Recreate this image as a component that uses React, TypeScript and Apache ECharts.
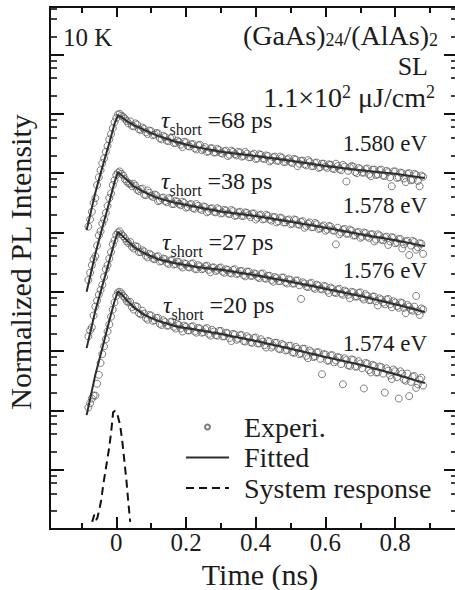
import React, { useEffect, useRef } from "react";
import * as echarts from "echarts";

// ---------- data (intensities stored as log10 values) ----------
// sampling grid A (ps)
const timePsA = [
  -80, -70, -60, -50, -40, -30, -20, -10, 0, 10, 20, 30,
  40, 50, 60, 70, 80, 90, 100, 110, 120, 130,
  140, 150, 160, 170, 180, 190, 200, 210, 220, 230,
  240, 250, 260, 270, 280, 290, 300, 310, 320, 330,
  340, 350, 360, 370, 380, 390, 400, 410, 420, 430,
  440, 450, 460, 470, 480, 490, 500, 510, 520, 530,
  540, 550, 560, 570, 580, 590, 600, 610, 620, 630,
  640, 650, 660, 670, 680, 690, 700, 710, 720, 730,
  740, 750, 760, 770, 780, 790, 800, 810, 820, 830,
  840, 850, 860, 870, 880,
];
// sampling grid B (ps), interleaved with grid A
const timePsB = [
  -75, -65, -55, -45, -35, -25, -15, -5, 5, 15, 25, 35,
  45, 55, 65, 75, 85, 95, 105, 115, 125, 135,
  145, 155, 165, 175, 185, 195, 205, 215, 225, 235,
  245, 255, 265, 275, 285, 295, 305, 315, 325, 335,
  345, 355, 365, 375, 385, 395, 405, 415, 425, 435,
  445, 455, 465, 475, 485, 495, 505, 515, 525, 535,
  545, 555, 565, 575, 585, 595, 605, 615, 625, 635,
  645, 655, 665, 675, 685, 695, 705, 715, 725, 735,
  745, 755, 765, 775, 785, 795, 805, 815, 825, 835,
  845, 855, 865, 875,
];

const exp1580A = [
  5.10, 5.35, 5.58, 5.93, 6.17, 6.36, 6.57, 6.76, 6.93, 7.00, 6.95, 6.88,
  6.875, 6.79, 6.82, 6.73, 6.75, 6.66, 6.71, 6.65, 6.67, 6.57,
  6.61, 6.54, 6.60, 6.51, 6.53, 6.44, 6.52, 6.45, 6.49, 6.40,
  6.48, 6.41, 6.36, 6.42, 6.35, 6.41, 6.34, 6.37, 6.29, 6.38,
  6.32, 6.36, 6.28, 6.36, 6.27, 6.31, 6.24, 6.32, 6.25, 6.30,
  6.20, 6.27, 6.21, 6.28, 6.19, 6.23, 6.19, 6.24, 6.12, 6.21,
  6.15, 6.22, 6.12, 6.17, 6.09, 6.16, 6.11, 6.15, 6.08, 6.16,
  6.07, 6.14, 5.86, 6.10, 6.11, 6.00, 6.07, 6.01, 6.08, 5.95,
  6.06, 5.98, 6.06, 5.95, 6.02, 5.78, 6.03, 5.93, 6.00, 5.85,
  6.00, 5.89, 5.97, 5.78, 5.94,
];
const exp1580B = [
  5.22, 5.50, 5.80, 6.05, 6.25, 6.46, 6.66, 6.86, 6.99, 6.97, 6.92, 6.84,
  6.80, 6.84, 6.74, 6.77, 6.69, 6.72, 6.64, 6.68, 6.59, 6.63,
  6.55, 6.59, 6.51, 6.55, 6.48, 6.53, 6.46, 6.49, 6.42, 6.47,
  6.39, 6.44, 6.37, 6.42, 6.35, 6.39, 6.33, 6.38, 6.31, 6.36,
  6.30, 6.35, 6.29, 6.33, 6.27, 6.33, 6.25, 6.31, 6.24, 6.29,
  6.22, 6.28, 6.21, 6.26, 6.19, 6.25, 6.17, 6.23, 6.16, 6.21,
  6.13, 6.19, 6.12, 6.18, 6.10, 6.16, 6.09, 6.14, 6.07, 6.12,
  6.05, 6.11, 6.04, 6.12, 6.02, 6.09, 6.01, 6.07, 5.98, 6.06,
  5.97, 6.05, 5.96, 6.04, 5.93, 6.03, 5.92, 6.01, 5.91, 5.99,
  5.88, 5.99, 5.87, 5.96,
];

const exp1578A = [
  4.20, 4.45, 4.60, 4.95, 5.15, 5.33, 5.58, 5.80, 5.97, 6.03, 5.96, 5.86,
  5.82, 5.82, 5.72, 5.73, 5.64, 5.71, 5.62, 5.64, 5.53, 5.58,
  5.53, 5.58, 5.48, 5.53, 5.48, 5.52, 5.42, 5.47, 5.41, 5.48,
  5.40, 5.44, 5.34, 5.40, 5.35, 5.41, 5.32, 5.38, 5.32, 5.38,
  5.28, 5.34, 5.28, 5.34, 5.29, 5.32, 5.22, 5.29, 5.22, 5.30,
  5.22, 5.26, 5.17, 5.25, 5.17, 5.21, 5.14, 5.22, 5.14, 5.18,
  5.08, 5.15, 5.09, 5.16, 5.06, 5.10, 5.03, 5.11, 5.04, 4.80,
  4.97, 5.05, 4.98, 5.05, 4.95, 5.00, 4.91, 5.00, 4.93, 4.97,
  4.85, 4.97, 4.88, 4.92, 4.79, 4.92, 4.82, 4.89, 4.73, 4.85,
  4.62, 4.86, 4.71, 4.82, 4.64,
];
const exp1578B = [
  4.32, 4.55, 4.78, 5.02, 5.22, 5.45, 5.66, 5.88, 6.01, 5.99, 5.90, 5.83,
  5.78, 5.79, 5.70, 5.74, 5.63, 5.67, 5.60, 5.63, 5.54, 5.59,
  5.51, 5.56, 5.48, 5.52, 5.46, 5.50, 5.43, 5.48, 5.40, 5.45,
  5.38, 5.43, 5.36, 5.41, 5.34, 5.39, 5.33, 5.37, 5.31, 5.36,
  5.29, 5.35, 5.28, 5.33, 5.26, 5.32, 5.25, 5.30, 5.23, 5.28,
  5.20, 5.26, 5.19, 5.24, 5.17, 5.22, 5.15, 5.21, 5.13, 5.19,
  5.11, 5.17, 5.09, 5.14, 5.07, 5.12, 5.05, 5.10, 5.03, 5.08,
  5.00, 5.06, 4.98, 5.03, 4.95, 5.01, 4.93, 4.99, 4.91, 4.97,
  4.88, 4.95, 4.87, 4.93, 4.85, 4.91, 4.83, 4.89, 4.80, 4.86,
  4.78, 4.84, 4.75, 4.81,
];

const exp1576A = [
  3.25, 3.40, 3.75, 3.95, 4.12, 4.38, 4.56, 4.80, 4.96, 5.02, 4.94, 4.85,
  4.84, 4.73, 4.76, 4.67, 4.68, 4.58, 4.62, 4.55, 4.60, 4.52,
  4.55, 4.47, 4.53, 4.47, 4.50, 4.41, 4.47, 4.41, 4.48, 4.38,
  4.43, 4.39, 4.44, 4.33, 4.41, 4.37, 4.41, 4.32, 4.37, 4.31,
  4.38, 4.31, 4.35, 4.26, 4.34, 4.27, 4.30, 4.23, 4.31, 4.22,
  4.27, 4.17, 4.23, 4.18, 4.24, 4.14, 4.20, 4.14, 4.19, 3.88,
  4.14, 4.08, 4.15, 4.05, 4.10, 4.04, 4.09, 3.98, 4.05, 3.98,
  4.05, 3.95, 4.00, 3.89, 3.99, 3.92, 3.99, 3.87, 3.93, 3.86,
  3.92, 3.77, 3.87, 3.79, 3.88, 3.74, 3.82, 3.73, 3.81, 3.64,
  3.75, 3.68, 3.93, 3.61, 3.70,
];
const exp1576B = [
  3.35, 3.60, 3.85, 4.03, 4.25, 4.45, 4.67, 4.87, 5.00, 4.97, 4.90, 4.82,
  4.76, 4.77, 4.67, 4.70, 4.61, 4.64, 4.56, 4.59, 4.51, 4.56,
  4.49, 4.53, 4.46, 4.51, 4.44, 4.48, 4.42, 4.47, 4.39, 4.45,
  4.38, 4.43, 4.37, 4.41, 4.35, 4.40, 4.34, 4.38, 4.32, 4.37,
  4.30, 4.35, 4.28, 4.34, 4.27, 4.31, 4.25, 4.30, 4.23, 4.27,
  4.20, 4.25, 4.18, 4.24, 4.16, 4.21, 4.14, 4.19, 4.11, 4.16,
  4.09, 4.14, 4.07, 4.12, 4.05, 4.10, 4.02, 4.07, 3.99, 4.04,
  3.97, 4.02, 3.95, 4.00, 3.92, 3.98, 3.90, 3.96, 3.86, 3.92,
  3.84, 3.89, 3.82, 3.87, 3.79, 3.84, 3.76, 3.82, 3.73, 3.78,
  3.70, 3.75, 3.67, 3.72,
];

const exp1574A = [
  2.05, 2.20, 2.25, 2.60, 2.95, 3.20, 3.45, 3.70, 3.93, 4.00, 3.93, 3.84,
  3.83, 3.70, 3.75, 3.62, 3.63, 3.53, 3.60, 3.52, 3.56, 3.44,
  3.49, 3.43, 3.50, 3.38, 3.44, 3.33, 3.41, 3.35, 3.42, 3.31,
  3.38, 3.32, 3.39, 3.26, 3.33, 3.26, 3.34, 3.25, 3.30, 3.17,
  3.28, 3.21, 3.27, 3.16, 3.22, 3.14, 3.23, 3.13, 3.16, 3.06,
  3.16, 3.09, 3.14, 3.03, 3.10, 3.02, 3.09, 2.97, 3.04, 2.96,
  3.04, 2.88, 2.98, 2.91, 2.98, 2.61, 2.94, 2.84, 2.93, 2.84,
  2.89, 2.44, 2.85, 2.75, 2.85, 2.74, 2.79, 2.37, 2.79, 2.64,
  2.75, 2.64, 2.73, 2.30, 2.67, 2.53, 2.66, 2.20, 2.62, 2.50,
  2.24, 2.57, 2.38, 2.52, 2.42,
];
const exp1574B = [
  2.12, 2.25, 2.45, 2.80, 3.08, 3.33, 3.58, 3.82, 3.99, 3.97, 3.90, 3.82,
  3.74, 3.76, 3.64, 3.68, 3.56, 3.61, 3.51, 3.56, 3.46, 3.52,
  3.43, 3.49, 3.41, 3.46, 3.38, 3.43, 3.35, 3.41, 3.33, 3.39,
  3.31, 3.37, 3.29, 3.36, 3.27, 3.34, 3.25, 3.31, 3.22, 3.29,
  3.19, 3.27, 3.17, 3.25, 3.15, 3.22, 3.13, 3.20, 3.10, 3.17,
  3.06, 3.14, 3.04, 3.12, 3.01, 3.09, 2.98, 3.07, 2.95, 3.04,
  2.92, 3.01, 2.90, 2.98, 2.87, 2.95, 2.84, 2.93, 2.81, 2.90,
  2.78, 2.88, 2.76, 2.86, 2.74, 2.83, 2.71, 2.80, 2.68, 2.77,
  2.64, 2.74, 2.62, 2.71, 2.59, 2.69, 2.56, 2.66, 2.52, 2.62,
  2.48, 2.58, 2.44, 2.55,
];

const fitTimeNs = [
  -0.085, -0.06, -0.04, -0.02, -0.005, 0.005, 0.015, 0.03, 0.05, 0.08,
  0.12, 0.17, 0.23, 0.3, 0.4, 0.5, 0.6, 0.7, 0.8, 0.885,
];
const fit1580 = [5.04, 5.67, 6.10, 6.51, 6.83, 6.98, 6.95, 6.88, 6.81, 6.73, 6.63, 6.53, 6.44, 6.36, 6.29, 6.21, 6.12, 6.05, 5.99, 5.92];
const fit1578 = [4.00, 4.64, 5.08, 5.51, 5.85, 6.02, 5.97, 5.89, 5.78, 5.68, 5.58, 5.50, 5.43, 5.355, 5.28, 5.18, 5.08, 4.97, 4.87, 4.77];
const fit1576 = [3.05, 3.68, 4.10, 4.52, 4.84, 5.01, 4.96, 4.87, 4.76, 4.65, 4.55, 4.48, 4.42, 4.37, 4.28, 4.17, 4.05, 3.93, 3.79, 3.66];
const fit1574 = [1.92, 2.60, 3.05, 3.51, 3.84, 4.01, 3.96, 3.86, 3.74, 3.61, 3.51, 3.42, 3.36, 3.29, 3.17, 3.04, 2.90, 2.77, 2.61, 2.46];

const sysRespTimeNs = [
  -0.069, -0.063, -0.058, -0.054, -0.049, -0.043, -0.037, -0.032, -0.026, -0.02,
  -0.014, -0.009, -0.003, 0.003, 0.011, 0.017, 0.023, 0.029, 0.034, 0.04,
];
const sysRespLog = [
  0.12, 0.24, 0.15, 0.19, 0.32, 0.49, 0.76, 0.94, 1.16, 1.38,
  1.67, 1.97, 1.99, 1.94, 1.75, 1.5, 1.16, 0.83, 0.49, 0.12,
];

const energyLabels = ["1.580 eV", "1.578 eV", "1.576 eV", "1.574 eV"];
const tauShortPs = [68, 38, 27, 20];

const xMajorTicks = [0, 0.2, 0.4, 0.6, 0.8];
const xMinorTicks = [-0.1, 0.1, 0.3, 0.5, 0.7, 0.9];
const yMajorTicks = [1, 1e1, 1e2, 1e3, 1e4, 1e5, 1e6, 1e7, 1e8];
const yMinorTicks = [
  2, 4, 6, 8, 20, 40, 60, 80, 200, 400, 600, 800,
  2e3, 4e3, 6e3, 8e3, 2e4, 4e4, 6e4, 8e4, 2e5, 4e5, 6e5, 8e5,
  2e6, 4e6, 6e6, 8e6, 2e7, 4e7, 6e7, 8e7, 2e8, 4e8, 6e8,
];

// ---------- styling ----------
const FONT = "Liberation Serif";
const INK = "#1c1c1c";
const AXIS = "#111";
const CLEAR = "rgba(0,0,0,0)";

const pairs = (ts: number[], logs: number[], scale = 1) =>
  ts.map((t, i) => [t * scale, Math.pow(10, logs[i])]);

export default function App() {
  const ref = useRef<HTMLDivElement>(null);

  useEffect(() => {
    if (!ref.current) return;
    const chart = echarts.init(ref.current, undefined, { renderer: "svg" });

    const expSets: [number[], number[]][] = [
      [exp1580A, exp1580B],
      [exp1578A, exp1578B],
      [exp1576A, exp1576B],
      [exp1574A, exp1574B],
    ];
    const fitSets = [fit1580, fit1578, fit1576, fit1574];

    const scatterSeries = expSets.map(([a, b]) => ({
      type: "scatter",
      name: "Experi.",
      xAxisIndex: 0,
      yAxisIndex: 0,
      symbol: "circle",
      symbolSize: 7,
      itemStyle: { color: CLEAR, borderColor: "#5c5c5c", borderWidth: 1 },
      data: [...pairs(timePsA, a, 0.001), ...pairs(timePsB, b, 0.001)],
      z: 2,
    }));

    const fitSeries = fitSets.map((vals) => ({
      type: "line",
      name: "Fitted",
      xAxisIndex: 0,
      yAxisIndex: 0,
      symbol: "none",
      itemStyle: { color: CLEAR },
      lineStyle: { color: "#2e2e2e", width: 2 },
      data: pairs(fitTimeNs, vals),
      z: 3,
    }));

    const sysSeries = {
      type: "line",
      name: "System response",
      xAxisIndex: 0,
      yAxisIndex: 0,
      symbol: "none",
      itemStyle: { color: CLEAR },
      lineStyle: { color: "#111", width: 2, type: [8, 5] },
      data: pairs(sysRespTimeNs, sysRespLog),
      z: 3,
    };

    const xCommon = {
      type: "value",
      min: -0.19,
      max: 0.98,
      splitLine: { show: false },
      axisLine: { show: true, onZero: false, lineStyle: { color: AXIS, width: 2 } },
    };
    const yCommon = {
      type: "log",
      logBase: 10,
      min: 1,
      max: 6.35e8,
      splitLine: { show: false },
      axisLabel: { show: false },
      axisLine: { show: true, onZero: false, lineStyle: { color: AXIS, width: 2 } },
    };

    const subRich = {
      t: { fontFamily: FONT, fontSize: 24, fontStyle: "italic", lineHeight: 34, color: INK },
      s: { fontFamily: FONT, fontSize: 16, lineHeight: 18, verticalAlign: "bottom", color: INK },
      m: { fontFamily: FONT, fontSize: 24, lineHeight: 34, color: INK },
      b: { fontFamily: FONT, fontSize: 18, lineHeight: 18, verticalAlign: "bottom", color: INK },
      p: { fontFamily: FONT, fontSize: 18, lineHeight: 16, verticalAlign: "top", color: INK },
      M: { fontFamily: FONT, fontSize: 28, lineHeight: 28, color: INK },
    };

    const textEl = (
      x: number,
      y: number,
      text: string,
      align: string,
      size = 24,
      rich = false,
      lineHeight?: number
    ) => ({
      type: "text",
      x,
      y,
      silent: true,
      style: {
        text,
        fill: INK,
        fontFamily: FONT,
        fontSize: size,
        align,
        textAlign: align,
        verticalAlign: "middle",
        textVerticalAlign: "middle",
        ...(lineHeight ? { lineHeight } : {}),
        ...(rich ? { rich: subRich } : {}),
      },
    });

    const tauY = [120, 181, 242, 305];
    const tauX = [161, 161, 162, 163];
    const eVY = [143, 205, 270, 343];

    const graphics: any[] = [
      textEl(63, 37, "10 K", "left", 25),
      textEl(438, 35, "{M|(GaAs)}{b|24}{M|/(AlAs)}{b|2}", "right", 28, true),
      textEl(428, 66, "SL", "right", 26, false, 22),
      textEl(435, 97, "{M|1.1×10}{p|2}{M| μJ/cm}{p|2}", "right", 28, true),
    ];
    tauShortPs.forEach((tau, i) => {
      graphics.push(textEl(tauX[i], tauY[i], `{t|τ}{s|short}{m| =${tau} ps}`, "left", 24, true));
    });
    energyLabels.forEach((lab, i) => {
      graphics.push(textEl(427, eVY[i], lab, "right", 23));
    });

    chart.setOption({
      animation: false,
      backgroundColor: "#fff",
      grid: { left: 50, top: 7, width: 408, height: 522, outerBoundsMode: "none", containLabel: false },
      legend: {
        orient: "vertical",
        left: 185,
        top: 412,
        padding: 0,
        itemGap: 0.5,
        itemWidth: 43,
        itemHeight: 5,
        selectedMode: false,
        data: [
          { name: "Experi.", icon: "circle" },
          { name: "Fitted", itemStyle: { color: CLEAR, borderWidth: 0 } },
          { name: "System response", itemStyle: { color: CLEAR, borderWidth: 0 } },
        ],
        textStyle: { fontFamily: FONT, fontSize: 28, color: INK, lineHeight: 30, padding: [0, 0, 0, 10] },
      },
      xAxis: [
        {
          ...xCommon,
          position: "bottom",
          name: "Time (ns)",
          nameLocation: "middle",
          nameGap: 23,
          nameTextStyle: { fontFamily: FONT, fontSize: 30, color: INK, padding: [0, 0, 0, 12] },
          axisTick: { show: true, inside: true, length: 12, customValues: xMajorTicks, lineStyle: { color: AXIS, width: 2 } },
          axisLabel: {
            show: true,
            customValues: xMajorTicks,
            margin: 1,
            fontFamily: FONT,
            fontSize: 25,
            color: INK,
            formatter: (v: number) => (v === 0 ? "0" : v.toFixed(1)),
          },
        },
        {
          ...xCommon,
          position: "bottom",
          axisTick: { show: true, inside: true, length: 6, customValues: xMinorTicks, lineStyle: { color: AXIS, width: 2 } },
          axisLabel: { show: false },
        },
        {
          ...xCommon,
          position: "top",
          axisTick: { show: true, inside: true, length: 10, customValues: xMajorTicks, lineStyle: { color: AXIS, width: 2 } },
          axisLabel: { show: false },
        },
        {
          ...xCommon,
          position: "top",
          axisTick: { show: true, inside: true, length: 6, customValues: xMinorTicks, lineStyle: { color: AXIS, width: 2 } },
          axisLabel: { show: false },
        },
      ],
      yAxis: [
        {
          ...yCommon,
          position: "left",
          name: "Normalized PL Intensity",
          nameLocation: "middle",
          nameGap: 15,
          nameTextStyle: { fontFamily: FONT, fontSize: 30, color: INK, padding: [0, 0, 0, 12] },
          axisTick: { show: true, inside: true, length: 14, customValues: yMajorTicks, lineStyle: { color: AXIS, width: 2 } },
        },
        {
          ...yCommon,
          position: "left",
          axisTick: { show: true, inside: true, length: 7, customValues: yMinorTicks, lineStyle: { color: AXIS, width: 1.6 } },
        },
        {
          ...yCommon,
          position: "right",
          axisTick: { show: true, inside: true, length: 14, customValues: yMajorTicks, lineStyle: { color: AXIS, width: 2 } },
        },
        {
          ...yCommon,
          position: "right",
          axisTick: { show: true, inside: true, length: 7, customValues: yMinorTicks, lineStyle: { color: AXIS, width: 1.6 } },
        },
      ],
      graphic: graphics,
      series: [...scatterSeries, ...fitSeries, sysSeries],
    } as any);

    return () => chart.dispose();
  }, []);

  return (
    <div
      ref={ref}
      style={{ position: "absolute", left: 0, top: 0, width: 455, height: 590, background: "#fff" }}
    />
  );
}
